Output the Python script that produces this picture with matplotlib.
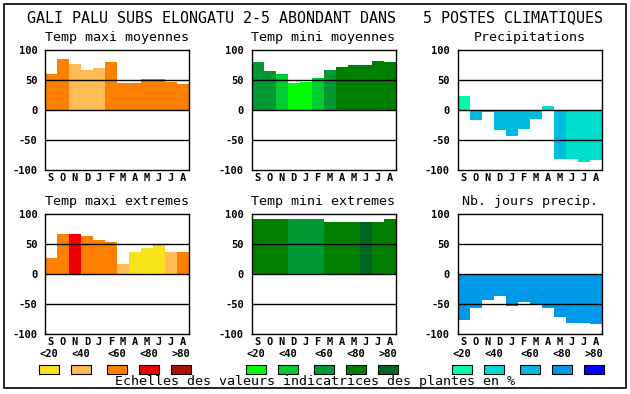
import matplotlib
matplotlib.use("Agg")
import matplotlib.pyplot as plt
from matplotlib.patches import Rectangle

# Data
months = list("SONDJFMAMJJA")

tmax_moy = [60, 85, 77, 67, 70, 80, 45, 45, 52, 52, 47, 43]
tmax_moy_cls = [2, 2, 1, 1, 1, 2, 2, 2, 2, 2, 2, 2]

tmin_moy = [80, 65, 60, 45, 47, 53, 67, 72, 75, 75, 82, 80]
tmin_moy_cls = [2, 2, 1, 0, 0, 1, 2, 3, 3, 3, 3, 3]

precip = [23, -17, -4, -33, -43, -32, -15, 7, -82, -82, -87, -83]
precip_cls = [0, 2, 2, 2, 2, 2, 2, 1, 2, 1, 1, 1]

tmax_ext = [27, 67, 67, 64, 57, 54, 16, 37, 44, 49, 36, 36]
tmax_ext_cls = [2, 2, 3, 2, 2, 2, 1, 0, 0, 0, 1, 2]

tmin_ext = [91, 91, 92, 92, 92, 91, 87, 87, 86, 87, 87, 92]
tmin_ext_cls = [3, 3, 3, 2, 2, 2, 3, 3, 3, 4, 3, 3]

njours = [-77, -56, -44, -36, -54, -46, -51, -56, -72, -82, -82, -84]
njours_cls = [3] * 12

class_labels = ["<20", "<40", "<60", "<80", ">80"]
yticks = [100, 50, 0, -50, -100]

# colour scales
warm = ["#f8e21a", "#ffbb55", "#ff8000", "#ee0000", "#aa1100"]
green = ["#00ff00", "#00cc33", "#009933", "#007f00", "#006622"]
blue = ["#00ffaa", "#00ddcc", "#00bbdd", "#0099e8", "#0000ff"]

W, H = 630, 394
mono = "DejaVu Sans Mono"


def fx(px):
    return px / W


def fy(py):
    return 1 - py / H


fig = plt.figure(figsize=(W / 100, H / 100), dpi=100)

# outer frame
fig.patches.append(Rectangle((fx(4), fy(388)), fx(622), (384) / H, fill=False,
                             edgecolor="black", linewidth=1.2,
                             transform=fig.transFigure))

fig.text(fx(27), fy(18), "GALI PALU SUBS ELONGATU 2-5 ABONDANT DANS   5 POSTES CLIMATIQUES",
         ha="left", va="center", fontsize=10.8, family=mono)

panels = [
    ("Temp maxi moyennes", tmax_moy, tmax_moy_cls, warm, 45, 50),
    ("Temp mini moyennes", tmin_moy, tmin_moy_cls, green, 251.5, 50),
    ("Precipitations", precip, precip_cls, blue, 457.5, 50),
    ("Temp maxi extremes", tmax_ext, tmax_ext_cls, warm, 45, 214),
    ("Temp mini extremes", tmin_ext, tmin_ext_cls, green, 251.5, 214),
    ("Nb. jours precip.", njours, njours_cls, blue, 457.5, 214),
]

for title, vals, cls, pal, left, top in panels:
    ax = fig.add_axes([fx(left), fy(top + 120), 144 / W, 120 / H])
    ax.bar(range(12), vals, width=1.0, align="edge",
           color=[pal[c] for c in cls], linewidth=0, zorder=1)
    for y in [50, 0, -50]:
        ax.axhline(y, color="black", linewidth=1.0, zorder=2)
    ax.set_xlim(0, 12)
    ax.set_ylim(-100, 100)
    ax.set_yticks(yticks)
    ax.set_yticklabels([str(v) for v in yticks], fontsize=7.5,
                       fontweight="bold", family=mono)
    ax.set_xticks([i + 0.5 for i in range(12)])
    ax.set_xticklabels(months, fontsize=7.5, fontweight="bold", family=mono)
    ax.tick_params(length=0)
    ax.tick_params(axis="y", pad=5.5)
    ax.tick_params(axis="x", pad=2.5)
    for s in ax.spines.values():
        s.set_linewidth(1.0)
    fig.text(fx(left + 72), fy(top - 12), title, ha="center", va="center",
             fontsize=9.6, family=mono)

# colour scale legends under the bottom row
for pal, left in [(warm, 45), (green, 251.5), (blue, 457.5)]:
    for i, (col, lab) in enumerate(zip(pal, class_labels)):
        x0 = left - 6 + [0, 32, 68, 100, 132][i]
        fig.patches.append(Rectangle((fx(x0), fy(373.5)), 20 / W, 9 / H,
                                     facecolor=col, edgecolor="black",
                                     linewidth=0.8, transform=fig.transFigure))
        fig.text(fx(x0 + 10), fy(354), lab, ha="center", va="center",
                 fontsize=7.5, fontweight="bold", family=mono)

fig.text(fx(115), fy(382), "Echelles des valeurs indicatrices des plantes en %",
         ha="left", va="center", fontsize=9.6, family=mono)

fig.savefig("out.png", dpi=100)
